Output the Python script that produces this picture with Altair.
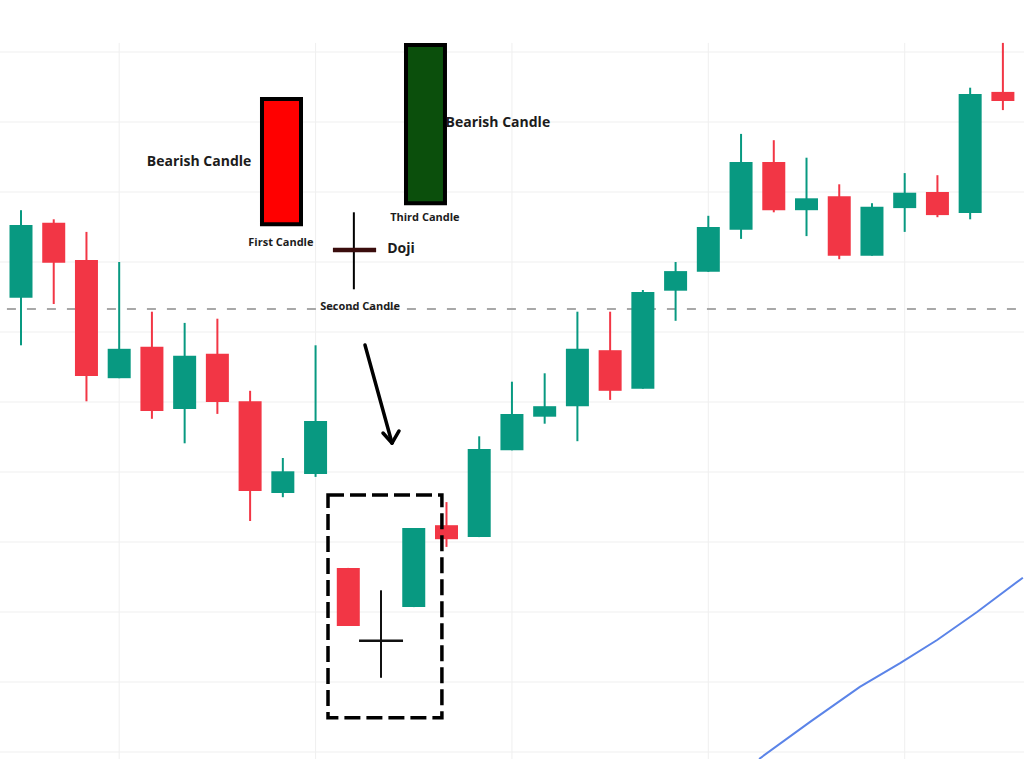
import altair as alt
import pandas as pd

# ---- price series (one entry per session) ----
opens = [164.9, 175.6, 170.3, 153.4, 157.9, 149.0, 156.9, 150.1, 137.0, 139.7,
         126.3, 115.9, 120.7, 132.4, 130.7, 143.1, 147.9, 149.4, 157.4, 151.9,
         165.9, 168.6, 174.6, 184.3, 177.4, 179.4, 170.9, 177.7, 180.0, 177.0, 194.3]
highs = [177.4, 176.1, 174.3, 170.0, 162.9, 161.3, 161.9, 151.6, 142.0, 158.1,
         126.3, 123.1, 132.0, 135.7, 145.1, 152.9, 154.1, 162.9, 162.9, 166.0,
         170.0, 176.6, 188.3, 187.4, 184.9, 181.1, 178.4, 182.7, 182.4, 194.9, 201.3]
lows = [158.1, 164.0, 150.1, 153.4, 147.6, 144.1, 148.3, 133.0, 136.4, 139.3,
        118.0, 110.6, 120.7, 129.3, 130.7, 143.1, 146.9, 144.4, 150.3, 151.9,
        161.6, 168.6, 173.3, 177.1, 173.7, 170.4, 170.9, 174.3, 176.4, 176.1, 191.7]
closes = [175.3, 169.9, 153.7, 157.6, 148.7, 156.6, 150.0, 137.3, 140.1, 147.3,
          118.0, 115.9, 132.0, 130.4, 143.3, 148.3, 149.4, 157.6, 151.6, 165.7,
          168.7, 175.0, 184.3, 177.4, 179.1, 170.9, 177.9, 179.9, 176.7, 194.0, 193.0]

DOJI_INDEX = 11          # the doji session inside the highlighted pattern
level_price = 163.3      # dashed horizontal level

# moving-average style line (session position, price)
ma_x = [22.55, 24.11, 25.63, 26.86, 27.99, 29.21, 30.61]
ma_y = [99.0, 104.3, 109.3, 112.7, 116.0, 120.0, 124.9]

# grid
grid_prices = [100, 110, 120, 130, 140, 150, 160, 170, 180, 190, 200]
grid_sessions = [3, 9, 15, 21, 27]

X_DOMAIN = [-0.6416, 30.645]
Y_DOMAIN = [99.0, 207.4286]

# ---- annotation content ----
legend_labels = ["Bearish Candle", "First Candle", "Bearish Candle",
                 "Third Candle", "Doji", "Second Candle"]
legend_x = [5.44, 7.94, 14.57, 12.34, 11.61, 10.36]
legend_y = [184.29, 172.71, 189.86, 176.29, 171.86, 163.57]
legend_size = [14, 11, 14, 11, 14, 11]

# illustrative candles of the morning-star pattern
sample_x0 = [7.363, 11.763]
sample_x1 = [8.555, 12.954]
sample_top = [193.3, 201.0]
sample_bottom = [175.4, 178.4]
sample_fill = ["#ff0000", "#0b4f0c"]

# illustrative doji
doji_icon_x = 10.17
doji_icon_hi, doji_icon_lo = 177.1, 166.1
doji_icon_y = 171.7
doji_icon_left, doji_icon_right = 9.53, 10.85

# arrow segments: shaft, left barb, right barb
arrow_x = [10.51, 11.06, 11.55]
arrow_y = [158.14, 145.57, 145.86]
arrow_x2 = [11.335, 11.335, 11.335]
arrow_y2 = [144.14, 144.14, 144.14]

# highlight box around the real pattern
box_x0, box_x1 = 9.38, 12.86
box_top, box_bottom = 136.7, 104.9

# ---- tables ----
n = len(opens)
candles = pd.DataFrame({"i": list(range(n)), "open": opens, "high": highs,
                        "low": lows, "close": closes})
candles["dir"] = ["up" if c >= o else "down" for o, c in zip(opens, closes)]
regular = candles[candles.i != DOJI_INDEX]
doji = candles[candles.i == DOJI_INDEX].copy()
doji["left"] = doji["i"] - 0.672
doji["right"] = doji["i"] + 0.672

xs = alt.Scale(domain=X_DOMAIN, nice=False, zero=False, padding=0)
ys = alt.Scale(domain=Y_DOMAIN, nice=False, zero=False, padding=0)


def X(f):
    return alt.X(f, type="quantitative", scale=xs, axis=None)


def Y(f):
    return alt.Y(f, type="quantitative", scale=ys, axis=None)


color = alt.Color("dir:N", scale=alt.Scale(domain=["up", "down"],
                                           range=["#089981", "#F23645"]),
                  legend=None)

hgrid = alt.Chart(pd.DataFrame({"p": grid_prices, "a": X_DOMAIN[0], "b": X_DOMAIN[1]})).mark_rule(
    color="#efefef", strokeWidth=1).encode(x=X("a"), x2="b", y=Y("p"))

vgrid = alt.Chart(pd.DataFrame({"s": grid_sessions, "t": 201.3, "u": Y_DOMAIN[0]})).mark_rule(
    color="#efefef", strokeWidth=1).encode(x=X("s"), y=Y("t"), y2="u")

level = alt.Chart(pd.DataFrame({"p": [level_price], "a": [-0.43], "b": [X_DOMAIN[1]]})).mark_rule(
    color="#a8a8a8", strokeWidth=2, strokeDash=[9, 11]).encode(x=X("a"), x2="b", y=Y("p"))

ma = alt.Chart(pd.DataFrame({"x": ma_x, "y": ma_y})).mark_line(
    color="#5b84e8", strokeWidth=2, clip=True).encode(x=X("x"), y=Y("y"))

wicks = alt.Chart(regular).mark_rule(strokeWidth=2).encode(
    x=X("i"), y=Y("low"), y2="high", color=color)

bodies = alt.Chart(regular).mark_bar(size=23).encode(
    x=X("i"), y=Y("open"), y2="close", color=color)

doji_v = alt.Chart(doji).mark_rule(color="#111111", strokeWidth=2).encode(
    x=X("i"), y=Y("low"), y2="high")
doji_h = alt.Chart(doji).mark_rule(color="#111111", strokeWidth=2.5).encode(
    x=X("left"), x2="right", y=Y("open"))

box = alt.Chart(pd.DataFrame({"a": [box_x0], "b": [box_x1], "t": [box_top], "u": [box_bottom]})).mark_rect(
    fillOpacity=0, stroke="#000000", strokeWidth=3.5, strokeDash=[16, 6]).encode(
    x=X("a"), x2="b", y=Y("t"), y2="u")

samples = alt.Chart(pd.DataFrame({"a": sample_x0, "b": sample_x1, "t": sample_top,
                                  "u": sample_bottom, "f": sample_fill})).mark_rect(
    stroke="#000000", strokeWidth=4).encode(
    x=X("a"), x2="b", y=Y("t"), y2="u", fill=alt.Fill("f:N", scale=None))

icon_v = alt.Chart(pd.DataFrame({"x": [doji_icon_x], "t": [doji_icon_hi], "u": [doji_icon_lo]})).mark_rule(
    color="#000000", strokeWidth=2).encode(x=X("x"), y=Y("t"), y2="u")
icon_h = alt.Chart(pd.DataFrame({"a": [doji_icon_left], "b": [doji_icon_right], "y": [doji_icon_y]})).mark_rule(
    color="#3a0d0d", strokeWidth=4.5).encode(x=X("a"), x2="b", y=Y("y"))

arrow = alt.Chart(pd.DataFrame({"x": arrow_x, "y": arrow_y, "x2": arrow_x2, "y2": arrow_y2})).mark_rule(
    color="#000000", strokeWidth=3.5, strokeCap="round").encode(
    x=X("x"), y=Y("y"), x2="x2", y2="y2")

labels = alt.Chart(pd.DataFrame({"t": legend_labels, "x": legend_x, "y": legend_y,
                                 "s": legend_size})).mark_text(
    font="Open Sans", fontWeight="bold", color="#1c1c1c", align="center",
    baseline="middle").encode(
    x=X("x"), y=Y("y"), text="t:N", size=alt.Size("s:Q", scale=None))

chart = alt.layer(
    hgrid, vgrid, level, ma, wicks, bodies, doji_v, doji_h, box,
    samples, icon_v, icon_h, arrow, labels
).properties(
    width=1024, height=759, padding=0,
    autosize=alt.AutoSizeParams(type="none"),
    background="#ffffff"
).configure_view(strokeWidth=0)

chart.save("out.html", embed_options={"renderer": "svg", "actions": False})
